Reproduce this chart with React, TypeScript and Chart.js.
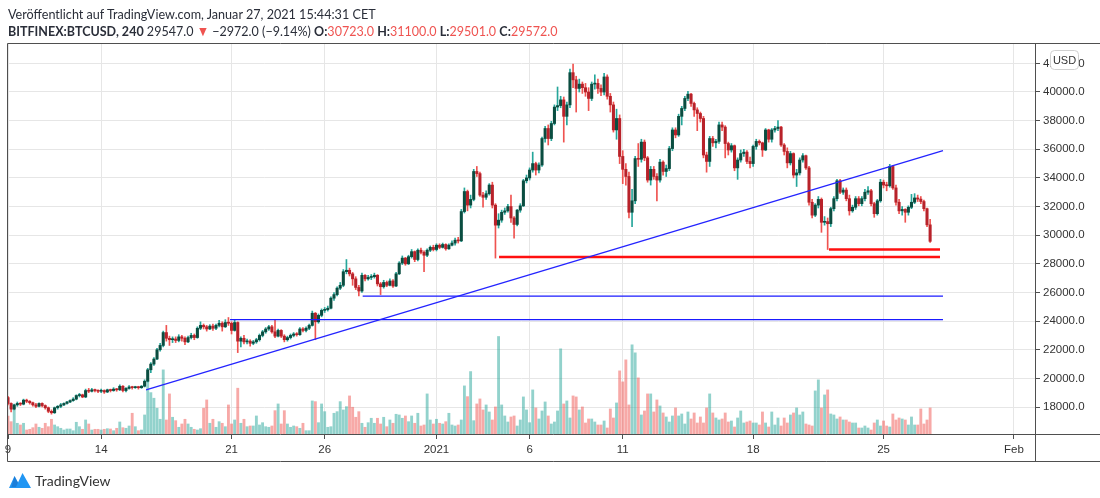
import { useEffect, useRef } from "react";
import { Chart, registerables } from "chart.js";

Chart.register(...registerables);

// 4h candles starting Dec 9 2020 00:00, one row per day
const firstOpen = 18650;
const closes = [
  18250, 17850, 18150, 18250, 18200, 18480,
  18400, 18300, 18150, 18050, 18250, 18100,
  17950, 17700, 17600, 17950, 18050, 18150,
  18250, 18350, 18450, 18550, 18800, 18850,
  18700, 19150, 19100, 19200, 19150, 19100,
  19150, 19050, 19200, 19150, 19250, 19200,
  19450, 19150, 19300, 19400, 19350, 19400,
  19350, 19450, 19800, 20600, 21000, 21350,
  22000, 22300, 23200, 22800, 22700, 22750,
  22650, 22900, 22800, 22550, 22850, 23000,
  22850, 23500, 23700, 23600, 23450, 23650,
  23500, 23700, 23850, 23600, 23900, 23850,
  23350, 23900, 22600, 22800, 22550, 22600,
  22450, 22550, 22700, 23000, 23250, 23450,
  23600, 23250, 22950, 23350, 22950, 22700,
  22850, 23000, 23100, 23050, 23450, 23350,
  23500, 23700, 24550, 23950, 24400, 24750,
  24800, 24900, 25600, 25850, 26300, 26500,
  27450, 27550, 27300, 26950, 26350, 26100,
  27200, 26950, 27050, 27100, 27200, 26600,
  26400, 26700, 26500, 26800, 26450, 27300,
  28050, 28400, 28000, 28500, 28850, 28300,
  28950, 28800, 28600, 28950, 29150, 29000,
  29300, 29150, 29350, 29050, 29300, 29450,
  29650, 29600, 31650, 33050, 32100, 32500,
  34450, 34300, 32800, 32650, 32900, 33500,
  32100, 30700, 31050, 31600, 31700, 32000,
  31200, 30750, 31750, 32050, 33800, 34000,
  34550, 35000, 34550, 34900, 36750, 37450,
  36750, 37800, 38950, 39050, 39450, 38300,
  39100, 41350, 40850, 40250, 40550, 40300,
  40000, 39550, 40550, 40600, 40250, 40000,
  41050, 39700, 39100, 37350, 38150, 35500,
  34600, 34100, 31600, 32400, 35350, 35300,
  36500, 35400, 33850, 34600, 34100, 33850,
  35100, 34450, 34650, 36050, 37350, 37000,
  38300, 38850, 39550, 39850, 39200, 38750,
  38500, 38150, 35600, 35150, 36750, 36450,
  36550, 37700, 37550, 36400, 35950, 36250,
  34700, 35250, 35700, 35800, 35150, 35000,
  36200, 36550, 36450, 35950, 37350, 36700,
  37350, 37450, 37550, 36300, 35850, 35050,
  35700, 34200, 34350, 35250, 35550, 34700,
  32300, 31400, 32100, 32500, 30900, 30950,
  30800, 31850, 32550, 33800, 33000, 33150,
  32550, 31700, 31950, 32550, 32200, 32550,
  33000, 33100, 32200, 31500, 32400, 33700,
  33500, 33450, 34800, 33300, 32300, 31700,
  31800, 31600, 31950, 32300, 32600, 32519,
  32350, 31850, 30723, 29572,
];
const highs = [
  18750, 18300, 18200, 18350, 18300, 18550,
  18550, 18450, 18350, 18250, 18300, 18300,
  18150, 18000, 17800, 18000, 18100, 18250,
  18300, 18400, 18500, 18650, 18850, 18950,
  18900, 19250, 19300, 19300, 19250, 19200,
  19250, 19200, 19250, 19250, 19350, 19300,
  19550, 19500, 19350, 19500, 19450, 19450,
  19450, 19500, 19900, 20700, 21100, 21450,
  22100, 22450, 23300, 23700, 22950, 22900,
  22900, 23050, 23000, 22900, 22950, 23150,
  23100, 23600, 23950, 23800, 23700, 23750,
  23800, 23800, 24050, 23950, 24100, 24250,
  23950, 24100, 23950, 22900, 23000, 22750,
  22700, 22650, 22800, 23100, 23350, 23550,
  23700, 23700, 24100, 23450, 23400, 23050,
  22950, 23100, 23200, 23200, 23550, 23550,
  23600, 23800, 24700, 24600, 24500, 24850,
  24950, 25050, 25700, 26000, 26400, 26700,
  27600, 28300, 27700, 27400, 27100, 26500,
  27350, 27250, 27200, 27250, 27350, 27250,
  26700, 26850, 26800, 26950, 26900, 27400,
  28150, 28550, 28450, 28600, 29000, 28900,
  29050, 29100, 28900, 29050, 29250, 29300,
  29400, 29400, 29450, 29400, 29400, 29600,
  29800, 29850, 31800, 33300, 33150, 32800,
  34600, 34800, 34400, 33000, 33100, 33600,
  33700, 32200, 31500, 31750, 31900, 32150,
  32800, 31300, 31800, 32200, 33900, 34200,
  34700, 35800, 35100, 35050, 36850, 37600,
  37700, 37950, 39100, 40350, 39700, 39650,
  39300, 41600, 41950, 41100, 40900, 40700,
  40600, 40300, 40700, 41200, 40900, 40500,
  41300, 41200, 39900, 39300, 38800, 38400,
  35900, 35000, 34400, 33200, 35500, 36400,
  36700, 36650, 35500, 34800, 34800, 34300,
  35300, 35200, 34900, 36200, 37500, 37500,
  38450, 39000, 39700, 40050, 39900, 39300,
  38900, 38600, 38300, 35800, 36900, 36900,
  36700, 37900, 37900, 37650, 36500, 36400,
  36300, 35400, 35950, 36000, 35900, 35450,
  36300, 36700, 36650, 36500, 37450, 37400,
  37450, 37600, 38000, 37600, 36400, 36100,
  35850, 35750, 34600, 35400, 35700, 35600,
  34800, 32500, 32200, 32700, 32600, 31300,
  31200, 31950, 32700, 33900, 33900, 33300,
  33300, 32800, 32100, 32700, 32700, 32700,
  33200, 33400, 33200, 32300, 32500, 33900,
  33850, 33700, 34950, 34850, 33500, 32500,
  32000, 31850, 32050, 32850, 32900, 32800,
  32700, 32450, 31900, 31100,
];
const lows = [
  18150, 17650, 17800, 18050, 18100, 18150,
  18300, 18200, 18050, 17950, 18000, 18000,
  17850, 17600, 17500, 17550, 17850, 17950,
  18100, 18200, 18300, 18400, 18500, 18700,
  18650, 18650, 19000, 19050, 19050, 19000,
  19000, 18950, 19000, 19050, 19100, 19100,
  19150, 19050, 19050, 19250, 19250, 19300,
  19250, 19300, 19400, 19750, 20400, 20900,
  21300, 21900, 22200, 22600, 22300, 22500,
  22500, 22550, 22600, 22350, 22500, 22750,
  22700, 22800, 23400, 23450, 23300, 23400,
  23350, 23400, 23600, 23300, 23550, 23700,
  23100, 23300, 21800, 22200, 22400, 22400,
  22250, 22350, 22450, 22600, 22900, 23150,
  23350, 23150, 22850, 22900, 22850, 22550,
  22600, 22750, 22900, 22950, 23000, 23250,
  23250, 23400, 23650, 22700, 23850, 24300,
  24600, 24700, 24850, 25450, 25750, 26200,
  26400, 27300, 27150, 26500, 26200, 25750,
  26000, 26800, 26850, 26900, 27000, 26450,
  25850, 26300, 26400, 26450, 26350, 26400,
  27250, 27950, 27900, 27950, 28400, 28150,
  28200, 28700, 27450, 28500, 28850, 28900,
  28900, 29050, 29100, 28950, 29000, 29250,
  29300, 29450, 29550, 31550, 31700, 31900,
  32400, 34100, 32700, 31950, 32500, 32800,
  31900, 28400, 30500, 30900, 31450, 31600,
  30900, 29800, 30650, 31600, 32000, 33650,
  33850, 34400, 34200, 34350, 34800, 36500,
  36300, 36600, 37700, 38700, 38900, 36500,
  37700, 38900, 40300, 38600, 40000, 39900,
  39700, 38700, 39400, 40200, 39900, 39750,
  39800, 39500, 38600, 37200, 36700, 35000,
  33600, 33500, 31200, 30600, 32200, 34800,
  35100, 35200, 33700, 33500, 33900, 32400,
  33700, 34200, 34100, 34500, 35900, 36800,
  36900, 37700, 38700, 39400, 39000, 38300,
  37300, 37900, 35400, 34400, 34800, 36200,
  36100, 36400, 37300, 35400, 35600, 35800,
  34500, 33900, 35100, 35500, 35000, 34700,
  34800, 36000, 36300, 35500, 35900, 36500,
  36500, 37200, 37300, 36200, 35600, 34700,
  34900, 34000, 33400, 34200, 35100, 34600,
  32100, 31200, 31300, 31900, 30200, 30700,
  29000, 30600, 31700, 32400, 32900, 32850,
  32400, 31400, 31600, 31800, 32050, 32050,
  32400, 32850, 32050, 31250, 31400, 32300,
  33300, 33100, 33350, 33200, 32100, 31500,
  31400, 30900, 31400, 31850, 32200, 32350,
  32200, 31700, 30600, 29501,
];
const volumes = [
  18, 12.3, 24, 10.7, 9, 10.7, 4, 4.7, 6.3, 10,
  6.7, 5.7, 10.7, 7.3, 14.7, 9, 7.3, 5.7, 4, 5,
  5, 3.3, 11.7, 7.3, 4.7, 14, 10, 4, 4.7, 4.7,
  4, 4.7, 5.3, 5, 3.3, 5.7, 12, 6.3, 5.7, 8,
  20.7, 7.3, 3.3, 4, 19, 54, 41.3, 35.7, 25.7, 14.7,
  64, 14, 40, 16.7, 13.3, 6.7, 10, 14.7, 10, 6.7,
  4.7, 4, 5.3, 25.7, 34, 10.7, 14.7, 6.7, 12.3, 10.7,
  7.3, 29, 10, 14, 45.7, 10.7, 14.7, 7.3, 8, 8,
  18, 9, 11.3, 7.3, 6.7, 8, 23.3, 30, 10, 23.3,
  10, 6.7, 8, 7.3, 5.7, 10.7, 3.3, 3.3, 33, 32.3,
  11.3, 30, 22.3, 6.7, 7.3, 20.7, 22.3, 32.3, 24, 27.3,
  38, 26.7, 16.7, 22.3, 10.7, 6.7, 11.3, 15.7, 10.7, 15.7,
  10, 16.7, 7.3, 14, 10.7, 19.7, 19, 15.7, 18, 12.3,
  18, 10.7, 20.7, 8, 9, 40, 14, 10, 14.7, 10.7,
  10, 12.3, 20.7, 9, 8, 9, 14, 48, 37.3,
  62.3, 13.3, 30, 35, 24, 29, 22, 14, 27, 97.3,
  29, 18, 12, 17, 18, 8, 14, 37, 24, 11.3,
  44, 26, 15, 23, 32, 18, 10, 12, 23, 85,
  30, 33, 16, 38, 37, 24, 27, 11, 15, 15,
  12, 9, 9, 13, 6, 25, 16, 31, 63, 52,
  74, 29, 89, 81, 56, 19, 23, 40, 40, 22,
  34, 28, 21, 17, 12, 18, 26, 18, 20, 10,
  22, 15, 21, 11, 17, 11, 26, 40, 21, 16,
  14, 15, 21, 12, 13, 7, 16, 23, 11, 12,
  13, 11, 11, 9, 22, 11, 7, 22, 9, 16,
  8, 16, 11, 19, 21, 26, 19, 22, 10, 9,
  8, 43, 54, 26, 39, 44, 20, 19, 15, 17,
  14, 14, 12, 11, 11, 6, 6, 8, 6, 4,
  11, 14, 8, 13, 8, 7, 20, 14, 16, 15,
  14, 9, 17, 9, 9, 25, 10, 14, 26,
];

// x axis: days since Dec 9 2020
const tickDays = [0, 5, 12, 17, 23, 28, 33, 40, 47, 54];
const tickLabels = ["9", "14", "21", "26", "2021", "6", "11", "18", "25", "Feb"];
const priceTicks = [18000, 20000, 22000, 24000, 26000, 28000, 30000, 32000, 34000, 36000, 38000, 40000, 42000];

// drawn trend lines: [startDay, startPrice, endDay, endPrice]
const trendLine = [7.41, 19190, 50.19, 35900];
const supportBlue1 = [11.92, 24100, 50.19, 24100];
const supportBlue2 = [19.04, 25750, 50.19, 25750];
const supportRed1 = [26.36, 28480, 50.03, 28480];
const supportRed2 = [44.07, 29000, 50.03, 29000];

const UP_BODY = "#0a4d40";
const DOWN_BODY = "#b8222a";
const UP_WICK = "#26a69a";
const DOWN_WICK = "#ef5350";
const UP_VOL = "rgba(38,166,154,0.5)";
const DOWN_VOL = "rgba(239,83,80,0.5)";

const framePlugin = {
  id: "tvFrame",
  afterDraw(chart: any) {
    const { ctx, chartArea: a, width } = chart;
    const axisBottom = a.bottom + 27;
    ctx.save();
    ctx.strokeStyle = "#4f4f4f";
    ctx.lineWidth = 1;
    ctx.beginPath();
    ctx.moveTo(a.left - 0.5, a.top - 0.5);
    ctx.lineTo(width, a.top - 0.5);
    ctx.moveTo(a.left - 0.5, a.top - 0.5);
    ctx.lineTo(a.left - 0.5, axisBottom + 0.5);
    ctx.moveTo(a.left - 0.5, a.bottom + 0.5);
    ctx.lineTo(width, a.bottom + 0.5);
    ctx.moveTo(a.left - 0.5, axisBottom + 0.5);
    ctx.lineTo(width, axisBottom + 0.5);
    ctx.moveTo(a.right + 0.5, a.top);
    ctx.lineTo(a.right + 0.5, axisBottom);
    ctx.stroke();
    // USD badge
    const bx = a.right + 15.5, by = a.top + 6.5, bw = 28, bh = 19;
    ctx.beginPath();
    ctx.roundRect(bx, by, bw, bh, 4);
    ctx.fillStyle = "#ffffff";
    ctx.fill();
    ctx.strokeStyle = "#d0d0d0";
    ctx.stroke();
    ctx.fillStyle = "#333333";
    ctx.font = "11px 'Liberation Sans', Arial, sans-serif";
    ctx.textAlign = "center";
    ctx.textBaseline = "middle";
    ctx.fillText("USD", bx + bw / 2, by + bh / 2 + 0.5);
    ctx.restore();
  },
};

function seg(s: number[], color: string, width: number) {
  return {
    type: "line" as const,
    data: [
      { x: s[0], y: s[1] },
      { x: s[2], y: s[3] },
    ],
    borderColor: color,
    borderWidth: width,
    pointRadius: 0,
    yAxisID: "y",
    order: 0,
  };
}

export default function App() {
  const ref = useRef<HTMLCanvasElement>(null);

  useEffect(() => {
    const opens = closes.map((_, i) => (i === 0 ? firstOpen : closes[i - 1]));
    const up = closes.map((c, i) => c >= opens[i]);
    const xs = closes.map((_, i) => i / 6);
    const maxVol = Math.max(...volumes);

    const chart = new Chart(ref.current as HTMLCanvasElement, {
      type: "bar",
      data: {
        datasets: [
          {
            label: "body",
            data: closes.map((c, i) => ({ x: xs[i], y: [opens[i], c] })) as any,
            backgroundColor: up.map((u) => (u ? UP_BODY : DOWN_BODY)),
            barThickness: 2.4,
            grouped: false,
            minBarLength: 1,
            borderWidth: 0,
            yAxisID: "y",
            order: 1,
          },
          {
            label: "wick",
            data: closes.map((_, i) => ({ x: xs[i], y: [lows[i], highs[i]] })) as any,
            backgroundColor: up.map((u) => (u ? UP_WICK : DOWN_WICK)),
            barThickness: 1,
            grouped: false,
            borderWidth: 0,
            yAxisID: "y",
            order: 2,
          },
          {
            label: "volume",
            data: volumes.map((v, i) => ({ x: xs[i], y: v })) as any,
            backgroundColor: up.map((u) => (u ? UP_VOL : DOWN_VOL)),
            barThickness: 2.2,
            grouped: false,
            borderWidth: 0,
            yAxisID: "yVol",
            order: 3,
          },
          seg(trendLine, "#2424ff", 1.3),
          seg(supportBlue1, "#1a1aff", 1.2),
          seg(supportBlue2, "#1a1aff", 1.2),
          seg(supportRed1, "#ff1010", 2.5),
          seg(supportRed2, "#ff1010", 2.5),
        ] as any,
      },
      options: {
        animation: false,
        responsive: false,
        layout: { padding: { left: 8, top: 44, right: 0, bottom: 37 }, autoPadding: false } as any,
        plugins: { legend: { display: false }, tooltip: { enabled: false } },
        scales: {
          x: {
            type: "linear",
            min: 0,
            max: 55.13,
            offset: false,
            afterFit: (s: any) => {
              s.height = 27;
            },
            afterBuildTicks: (s: any) => {
              s.ticks = tickDays.map((v) => ({ value: v }));
            },
            grid: { offset: false, color: "#e6e6e6", tickColor: "#4f4f4f", tickLength: 5, drawTicks: true },
            border: { display: false },
            ticks: {
              maxRotation: 0,
              autoSkip: false,
              padding: 4,
              color: "#333333",
              font: { family: "'Liberation Sans', Arial, sans-serif", size: 11.5 },
              callback: (v: any) => {
                const k = tickDays.indexOf(Number(v));
                return k >= 0 ? tickLabels[k] : "";
              },
            },
          },
          y: {
            type: "linear",
            position: "right",
            min: 16115,
            max: 43352,
            afterFit: (s: any) => {
              s.width = 65;
            },
            afterBuildTicks: (s: any) => {
              s.ticks = priceTicks.map((v) => ({ value: v }));
            },
            grid: { color: "#e6e6e6", tickColor: "#4f4f4f", tickLength: 5 },
            border: { display: false },
            ticks: {
              padding: 3,
              color: "#333333",
              font: { family: "'Liberation Sans', Arial, sans-serif", size: 11.5 },
              callback: (v: any) => Number(v).toFixed(1),
            },
          },
          yVol: {
            type: "linear",
            display: false,
            min: 0,
            max: maxVol * 4,
          },
        },
      },
      plugins: [framePlugin],
    } as any);
    return () => chart.destroy();
  }, []);

  const red = { color: "#ef5350" };
  const headFont = {
    position: "absolute" as const,
    left: 8,
    fontFamily: "Lato, sans-serif",
    fontSize: 14,
    color: "#2a2e39",
    whiteSpace: "nowrap" as const,
    lineHeight: "18px",
    transformOrigin: "left center",
  };
  return (
    <div style={{ position: "fixed", left: 0, top: 0, width: 1100, height: 498, background: "#fff", overflow: "hidden" }}>
      <canvas ref={ref} width={1100} height={498} style={{ position: "absolute", left: 0, top: 0 }} />
      <div style={{ ...headFont, top: 5, transform: "scaleX(0.9)" }}>
        Veröffentlicht auf TradingView.com, Januar 27, 2021 15:44:31 CET
      </div>
      <div style={{ ...headFont, top: 22, transform: "scaleX(0.895)" }}>
        <b>BITFINEX:BTCUSD, 240</b> 29547.0 <span style={red}>▼</span> −2972.0 (−9.14%) <b>O:</b>
        <span style={red}>30723.0</span> <b>H:</b>
        <span style={red}>31100.0</span> <b>L:</b>
        <span style={red}>29501.0</span> <b>C:</b>
        <span style={red}>29572.0</span>
      </div>
      <div style={{ position: "absolute", left: 8, top: 470, display: "flex", alignItems: "center", gap: 3 }}>
        <svg width="24" height="20" viewBox="0 0 24 20">
          <path d="M1 18 L6.5 6 L10 12.5 L14.5 3 L23 18 Z" fill="#2196f3" />
          <path d="M6.5 6 L10 12.5 L8 17 L3.5 17 Z" fill="#1565c0" opacity="0.5" />
        </svg>
        <span style={{ fontFamily: "Lato, sans-serif", fontSize: 14, color: "#333" }}>TradingView</span>
      </div>
    </div>
  );
}
